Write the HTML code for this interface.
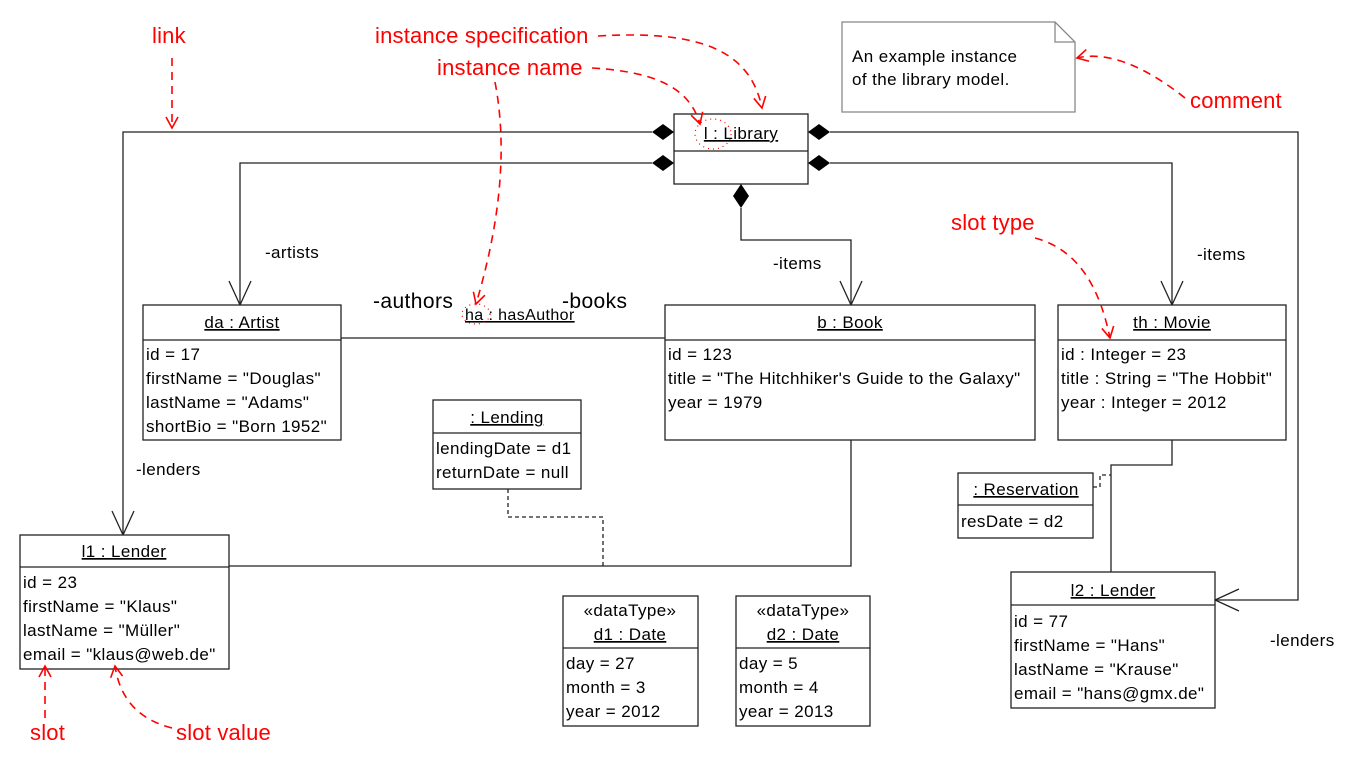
<!DOCTYPE html>
<html><head><meta charset="utf-8"><style>
html,body{margin:0;padding:0;background:#fff;}
svg{display:block;}
text{font-family:"Liberation Sans",sans-serif;font-size:17px;letter-spacing:0.4px;fill:#000;}
.r{fill:#f00;font-size:22px;letter-spacing:0.2px;}
.u{text-decoration:underline;}
</style></head><body>
<svg width="1347" height="781" viewBox="0 0 1347 781" xmlns="http://www.w3.org/2000/svg">
<defs>
<marker id="ra" markerWidth="14" markerHeight="14" refX="12" refY="7" orient="auto" markerUnits="userSpaceOnUse"><path d="M1,1 L12,7 L1,13" fill="none" stroke="#f00" stroke-width="1.6"/></marker>
</defs>
<g stroke="#222" stroke-width="1.3" fill="none">
<path d="M652,132 H123 V535"/>
<path d="M112,511 L123,535 L134,511"/>
<path d="M830,132 H1298 V600 H1215"/>
<path d="M1239,589 L1215,600 L1239,611"/>
<path d="M652,163 H240 V305"/>
<path d="M229,281 L240,305 L251,281"/>
<path d="M830,163 H1172 V305"/>
<path d="M1161,281 L1172,305 L1183,281"/>
<path d="M741,208 V240 H851 V305"/>
<path d="M840,281 L851,305 L862,281"/>
<path d="M341,338 H665"/>
<path d="M851,440 V566 H229"/>
<path d="M1172,440 V465 H1111 V572"/>
<path d="M508,489 V517 H603 V566" stroke-dasharray="4,3"/>
<path d="M1093,487 H1100 V475 H1111" stroke-dasharray="4,3"/>
<rect x="674" y="114" width="134" height="70" fill="#fff"/><path d="M674,151 H808"/>
<rect x="143" y="305" width="198" height="135" fill="#fff"/><path d="M143,340 H341"/>
<rect x="665" y="305" width="370" height="135" fill="#fff"/><path d="M665,340 H1035"/>
<rect x="1058" y="305" width="228" height="135" fill="#fff"/><path d="M1058,340 H1286"/>
<rect x="433" y="400" width="148" height="89" fill="#fff"/><path d="M433,433 H581"/>
<rect x="20" y="535" width="209" height="134" fill="#fff"/><path d="M20,567 H229"/>
<rect x="563" y="596" width="135" height="130" fill="#fff"/><path d="M563,648 H698"/>
<rect x="736" y="596" width="134" height="130" fill="#fff"/><path d="M736,648 H870"/>
<rect x="958" y="473" width="135" height="65" fill="#fff"/><path d="M958,505 H1093"/>
<rect x="1011" y="572" width="204" height="136" fill="#fff"/><path d="M1011,605 H1215"/>
<path d="M842,22 H1055 L1075,42 V112 H842 Z" stroke="#888" fill="#fff"/>
<path d="M1055,22 V42 H1075" stroke="#888"/>
</g>
<g fill="#000">
<path d="M674,132 L663,124 L652,132 L663,140 Z"/>
<path d="M674,163 L663,155 L652,163 L663,171 Z"/>
<path d="M808,132 L819,124 L830,132 L819,140 Z"/>
<path d="M808,163 L819,155 L830,163 L819,171 Z"/>
<path d="M741,184 L733,196 L741,208 L749,196 Z"/>
</g>
<text x="741" y="139" text-anchor="middle" class="u">l : Library</text>
<text x="242" y="328" text-anchor="middle" class="u">da : Artist</text>
<text x="146" y="360">id = 17</text><text x="146" y="384">firstName = "Douglas"</text><text x="146" y="408">lastName = "Adams"</text><text x="146" y="432">shortBio = "Born 1952"</text>
<text x="850" y="328" text-anchor="middle" class="u">b : Book</text>
<text x="668" y="360">id = 123</text><text x="668" y="384">title = "The Hitchhiker's Guide to the Galaxy"</text><text x="668" y="408">year = 1979</text>
<text x="1172" y="328" text-anchor="middle" class="u">th : Movie</text>
<text x="1061" y="360">id : Integer = 23</text><text x="1061" y="384">title : String = "The Hobbit"</text><text x="1061" y="408">year : Integer = 2012</text>
<text x="507" y="423" text-anchor="middle" class="u">: Lending</text>
<text x="436" y="454">lendingDate = d1</text><text x="436" y="478">returnDate = null</text>
<text x="124" y="557" text-anchor="middle" class="u">l1 : Lender</text>
<text x="23" y="588">id = 23</text><text x="23" y="612">firstName = "Klaus"</text><text x="23" y="636">lastName = "Müller"</text><text x="23" y="660">email = "klaus@web.de"</text>
<text x="630" y="616" text-anchor="middle">«dataType»</text><text x="630" y="640" text-anchor="middle" class="u">d1 : Date</text>
<text x="566" y="669">day = 27</text><text x="566" y="693">month = 3</text><text x="566" y="717">year = 2012</text>
<text x="803" y="616" text-anchor="middle">«dataType»</text><text x="803" y="640" text-anchor="middle" class="u">d2 : Date</text>
<text x="739" y="669">day = 5</text><text x="739" y="693">month = 4</text><text x="739" y="717">year = 2013</text>
<text x="1026" y="495" text-anchor="middle" class="u">: Reservation</text>
<text x="961" y="527">resDate = d2</text>
<text x="1113" y="596" text-anchor="middle" class="u">l2 : Lender</text>
<text x="1014" y="627">id = 77</text><text x="1014" y="651">firstName = "Hans"</text><text x="1014" y="675">lastName = "Krause"</text><text x="1014" y="699">email = "hans@gmx.de"</text>
<text x="852" y="62">An example instance</text><text x="852" y="85">of the library model.</text>
<text x="265" y="258">-artists</text>
<text x="773" y="269">-items</text>
<text x="1197" y="260">-items</text>
<text x="136" y="475">-lenders</text>
<text x="1270" y="646">-lenders</text>
<text x="373" y="308" style="font-size:21px">-authors</text>
<text x="562" y="308" style="font-size:21px">-books</text>
<text x="465" y="320" class="u" style="font-size:16px">ha : hasAuthor</text>
<g stroke="#f00" stroke-width="1.6" fill="none" stroke-dasharray="8,6">
<path d="M172,58 V128" marker-end="url(#ra)"/>
<path d="M598,36 C700,30 750,50 762,108" marker-end="url(#ra)"/>
<path d="M592,68 C660,72 690,90 700,124" marker-end="url(#ra)"/>
<path d="M495,82 C510,160 495,240 476,304" marker-end="url(#ra)"/>
<path d="M1185,98 C1150,70 1110,50 1077,58" marker-end="url(#ra)"/>
<path d="M1035,238 C1080,250 1100,290 1110,338" marker-end="url(#ra)"/>
<path d="M45,718 V666" marker-end="url(#ra)"/>
<path d="M172,728 C140,720 120,700 115,666" marker-end="url(#ra)"/>
</g>
<g stroke="#f00" stroke-width="1.2" fill="none" stroke-dasharray="1,4">
<ellipse cx="713" cy="134" rx="18" ry="15"/>
<ellipse cx="476" cy="314" rx="14" ry="10"/>
</g>
<text x="152" y="43" class="r">link</text>
<text x="375" y="43" class="r">instance specification</text>
<text x="437" y="75" class="r">instance name</text>
<text x="1190" y="108" class="r">comment</text>
<text x="951" y="230" class="r">slot type</text>
<text x="30" y="740" class="r">slot</text>
<text x="176" y="740" class="r">slot value</text>
</svg>
</body></html>
